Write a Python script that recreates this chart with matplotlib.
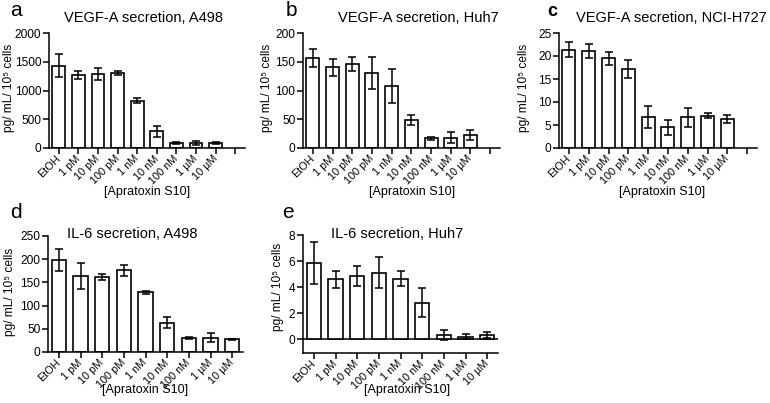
import matplotlib
matplotlib.use("Agg")
import matplotlib.pyplot as plt
import numpy as np

plt.rcParams['font.family'] = ['Liberation Sans', 'DejaVu Sans']

doses = ['EtOH', '1 pM', '10 pM', '100 pM', '1 nM', '10 nM', '100 nM', '1 µM', '10 µM']

vegf_a498 = [1430, 1265, 1290, 1305, 825, 290, 90, 90, 88]
vegf_a498_err = [200, 72, 100, 35, 40, 90, 15, 30, 20]

vegf_huh7 = [157, 140, 146, 131, 108, 49, 17, 18, 23]
vegf_huh7_err = [16, 14, 12, 28, 29, 9, 3, 10, 9]

vegf_h727 = [21.4, 21.1, 19.5, 17.2, 6.75, 4.5, 6.7, 7.0, 6.3]
vegf_h727_err = [1.6, 1.5, 1.4, 2.0, 2.3, 1.6, 2.05, 0.55, 0.85]

il6_a498 = [199, 164, 162, 176, 129, 63, 30, 31, 27]
il6_a498_err = [24, 28, 7, 11.5, 3.5, 11.5, 2, 9, 2]

il6_huh7 = [5.85, 4.6, 4.85, 5.1, 4.65, 2.8, 0.33, 0.2, 0.33]
il6_huh7_err = [1.6, 0.67, 0.74, 1.2, 0.58, 1.1, 0.4, 0.17, 0.2]

W, H = 770, 403
fig = plt.figure(figsize=(W / 100, H / 100), dpi=100)


def px(x0, y0, x1, y1):
    # pixel box -> figure fraction rect
    return [x0 / W, 1 - y1 / H, (x1 - x0) / W, (y1 - y0) / H]


def panel(rect, vals, errs, ylim, yticks, nslots):
    ax = fig.add_axes(rect)
    x = np.arange(len(vals))
    ax.bar(x, vals, width=0.66, color='white', edgecolor='black', linewidth=1.2, zorder=2)
    ax.errorbar(x, vals, yerr=errs, fmt='none', ecolor='black', elinewidth=1.1,
                capsize=2.6, capthick=1.1, zorder=3)
    ax.set_xlim(-0.5, nslots - 0.5)
    ax.set_ylim(*ylim)
    ax.set_yticks(yticks)
    ax.set_xticks(np.arange(nslots))
    labels = doses + [''] * (nslots - len(doses))
    ax.set_xticklabels(labels, rotation=45, ha='right', va='center',
                       rotation_mode='anchor', fontsize=7.8)
    ax.spines['top'].set_visible(False)
    ax.spines['right'].set_visible(False)
    for s in ['left', 'bottom']:
        ax.spines[s].set_linewidth(1.1)
    ax.tick_params(axis='y', labelsize=8.6, width=1.1, length=4, pad=1.5)
    ax.tick_params(axis='x', width=1.1, length=4, pad=2.5)
    if ylim[0] < 0:
        ax.axhline(0, color='black', linewidth=1.1, zorder=1)
    return ax


panel(px(49, 33, 245, 148), vegf_a498, vegf_a498_err, (0, 2000), [0, 500, 1000, 1500, 2000], 10)
panel(px(303, 33, 500, 148), vegf_huh7, vegf_huh7_err, (0, 200), [0, 50, 100, 150, 200], 10)
panel(px(559, 33, 757, 148), vegf_h727, vegf_h727_err, (0, 25), [0, 5, 10, 15, 20, 25], 10)
panel(px(48, 236, 243, 352), il6_a498, il6_a498_err, (0, 250), [0, 50, 100, 150, 200, 250], 9)
panel(px(303, 235, 498, 353), il6_huh7, il6_huh7_err, (-1.05, 8), [0, 2, 4, 6, 8], 9)


def ftext(x, y, s, **kw):
    fig.text(x / W, 1 - y / H, s, **kw)


ylab = 'pg/ mL/ 10⁵ cells'
titles = [(143, 18, 'VEGF-A secretion, A498'), (418, 18, 'VEGF-A secretion, Huh7'),
          (671, 18, 'VEGF-A secretion, NCI-H727'), (132, 234, 'IL-6 secretion, A498'),
          (397, 234, 'IL-6 secretion, Huh7')]
for x, y, s in titles:
    ftext(x, y, s, ha='center', va='center', fontsize=10.5)

letters = [(16, 11, 'a', 'normal', 15), (291, 11, 'b', 'normal', 15), (552, 12, 'c', 'bold', 13),
           (16, 212, 'd', 'normal', 15), (288, 213, 'e', 'normal', 15)]
for x, y, s, wt, fs in letters:
    ftext(x, y, s, ha='center', va='center', fontsize=fs, fontweight=wt)

for x, y in [(9, 88), (267, 88), (524, 88), (10, 292), (278, 287)]:
    ftext(x, y, ylab, ha='center', va='center', rotation=90, fontsize=8.6)

for x, y in [(147, 192), (412, 192), (662, 192), (145, 390), (407, 390)]:
    ftext(x, y, '[Apratoxin S10]', ha='center', va='center', fontsize=9)

fig.savefig('out.png', dpi=100)
